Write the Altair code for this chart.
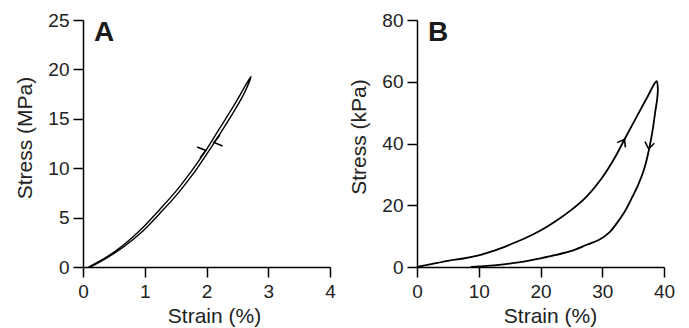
import altair as alt
import pandas as pd

# ---------------- Panel A (MPa) ----------------
a_load_strain = [0.09, 0.38, 0.65, 0.97, 1.24, 1.51, 1.78, 1.99, 2.20, 2.45, 2.62, 2.72]
a_load_stress = [0.0, 1.0, 2.2, 4.0, 5.8, 7.7, 9.9, 11.8, 13.9, 16.4, 18.25, 19.3]
a_unload_strain = [2.72, 2.62, 2.45, 2.20, 1.99, 1.78, 1.51, 1.24, 0.97, 0.65, 0.38, 0.12]
a_unload_stress = [19.3, 17.7, 15.8, 13.3, 11.3, 9.4, 7.25, 5.4, 3.65, 2.0, 0.9, 0.0]
a_arrow_strain = [1.99, 2.12]
a_arrow_stress = [11.8, 12.6]

# ---------------- Panel B (kPa) ----------------
b_load_strain = [0, 2.5, 5.0, 7.5, 10, 12.5, 15, 17.5, 20, 22.5, 25, 27.5, 30, 32, 33.6, 35.8, 37.4, 38.4, 38.8]
b_load_stress = [0, 1.0, 2.0, 2.75, 3.8, 5.3, 7.2, 9.3, 11.8, 14.9, 18.5, 22.9, 29.0, 35.3, 41.3, 49.5, 55.4, 59.2, 60.2]
b_unload_strain = [38.8, 39.0, 38.9, 38.6, 38.2, 37.6, 36.8, 35.8, 34.7, 33.6, 32.4, 31.2, 29.5, 27.5, 25, 22.5, 20, 17.5, 15, 12.5, 10, 8.7]
b_unload_stress = [60.2, 58.0, 54.5, 50.5, 44.8, 38.3, 31.8, 26.5, 22.0, 17.8, 14.3, 11.3, 8.8, 7.2, 5.2, 3.9, 2.8, 1.8, 1.1, 0.55, 0.2, 0.0]
b_arrow_strain = [33.6, 37.5]
b_arrow_stress = [41.3, 38.3]

a_xticks = [0, 1, 2, 3, 4]
a_yticks = [0, 5, 10, 15, 20, 25]
b_xticks = [0, 10, 20, 30, 40]
b_yticks = [0, 20, 40, 60, 80]

FONT = "Liberation Sans"
CHEVRON = "M -1 -0.75 L 0 0 L -1 0.75"
W = 247
H = 247


def curve_df(ls, lt, us, ut):
    xs = list(ls) + list(us[1:])
    ys = list(lt) + list(ut[1:])
    return pd.DataFrame({"strain": xs, "stress": ys, "i": list(range(len(xs)))})


def panel(df, arr_x, arr_y, arr_angles, arr_size, letter, xdom, xticks, ydom, yticks, ytitle, tx, ty, lw):
    x = alt.X("strain:Q", scale=alt.Scale(domain=xdom, nice=False, zero=False),
              axis=alt.Axis(values=xticks, title="Strain (%)", titleX=tx))
    y = alt.Y("stress:Q", scale=alt.Scale(domain=ydom, nice=False),
              axis=alt.Axis(values=yticks, title=ytitle, titleY=ty))
    line = alt.Chart(df).mark_line(color="black", strokeWidth=lw,
                                   interpolate="catmull-rom").encode(x=x, y=y, order="i:Q")
    layers = [line]
    for k, ang in enumerate(arr_angles):
        adf = pd.DataFrame({"strain": [arr_x[k]], "stress": [arr_y[k]]})
        layers.append(
            alt.Chart(adf).mark_point(shape=CHEVRON, filled=False, color="black",
                                      strokeWidth=1.6, size=arr_size, angle=ang, opacity=1)
            .encode(x=x, y=y)
        )
    lab = alt.Chart(pd.DataFrame({"t": [letter]})).mark_text(
        align="left", baseline="alphabetic", fontSize=28, fontWeight="bold",
        font=FONT, color="#1a1a1a"
    ).encode(text="t:N", x=alt.value(11), y=alt.value(21))
    layers.append(lab)
    return alt.layer(*layers).properties(width=W, height=H)


panel_a = panel(curve_df(a_load_strain, a_load_stress, a_unload_strain, a_unload_stress),
                a_arrow_strain, a_arrow_stress, [345, 165], 230, "A",
                [0, 4], a_xticks, [0, 25], a_yticks, "Stress (MPa)", 131, 117.5, 1.4)
panel_b = panel(curve_df(b_load_strain, b_load_stress, b_unload_strain, b_unload_stress),
                b_arrow_strain, b_arrow_stress, [300, 100], 164, "B",
                [0, 40], b_xticks, [0, 80], b_yticks, "Stress (kPa)", 133, 116.5, 1.8)

chart = alt.hconcat(panel_a, panel_b, spacing=12).properties(
    padding={"left": 6, "top": 3, "right": 5, "bottom": 5}
).configure_view(stroke=None).configure_axis(
    grid=False,
    domainColor="black", domainWidth=1.5,
    tickColor="black", tickWidth=1.5, tickSize=10,
    labelFont=FONT, labelFontSize=19, labelColor="#222",
    titleFont=FONT, titleFontSize=21, titleFontWeight="normal", titleColor="#222",
).configure_axisX(labelPadding=5, titlePadding=4, labelFlush=False
).configure_axisY(labelPadding=4, titlePadding=12)

chart.save("out.html", embed_options={"renderer": "svg", "actions": False})
